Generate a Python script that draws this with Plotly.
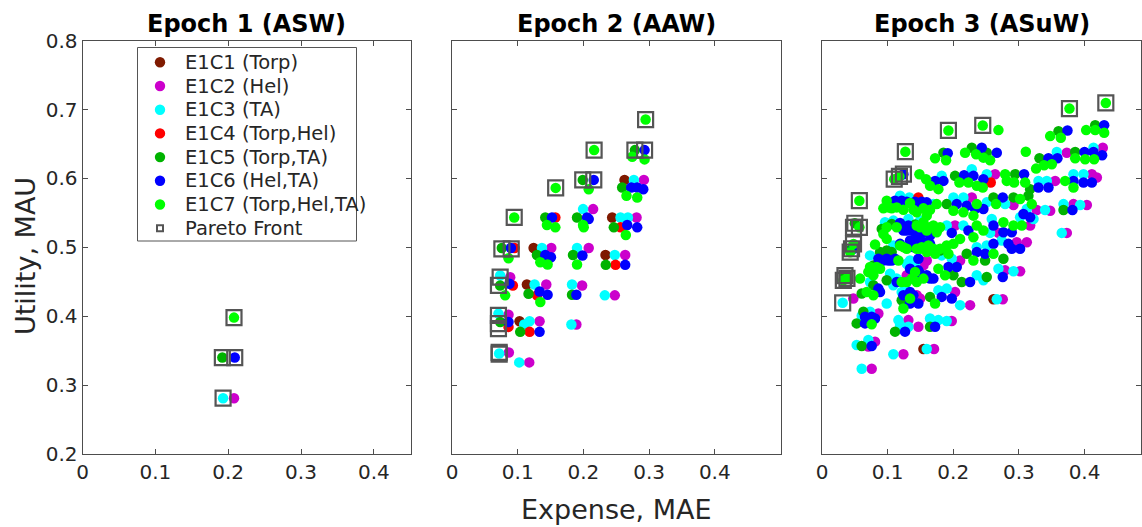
import plotly.graph_objects as go

# ---------------- DATA ----------------
series_names = ["E1C1 (Torp)", "E1C2 (Hel)", "E1C3 (TA)", "E1C4 (Torp,Hel)",
                "E1C5 (Torp,TA)", "E1C6 (Hel,TA)", "E1C7 (Torp,Hel,TA)"]
series_colors = ["#7f1a00", "#cc00cc", "#00ffff", "#ff0000", "#00b300", "#0000ff", "#00ff00"]
pareto_name = "Pareto Front"
panel_titles = ["Epoch 1 (ASW)", "Epoch 2 (AAW)", "Epoch 3 (ASuW)"]
x_ticks = [0, 0.1, 0.2, 0.3, 0.4]
y_ticks = [0.2, 0.3, 0.4, 0.5, 0.6, 0.7, 0.8]

# ---- Epoch 1 ----
e1_c1_x, e1_c1_y = [], []
e1_c2_x, e1_c2_y = [0.208], [0.281]
e1_c3_x, e1_c3_y = [0.193], [0.281]
e1_c4_x, e1_c4_y = [], []
e1_c5_x, e1_c5_y = [0.192], [0.340]
e1_c6_x, e1_c6_y = [0.209], [0.340]
e1_c7_x, e1_c7_y = [0.208], [0.398]
e1_pf_x = [0.208, 0.192, 0.209, 0.193]
e1_pf_y = [0.398, 0.340, 0.340, 0.281]

# ---- Epoch 2 ----
e2_c1_x = [0.1242, 0.2438, 0.2626, 0.2336, 0.1140, 0.1028]
e2_c1_y = [0.4991, 0.5434, 0.5979, 0.4890, 0.4461, 0.3927]
e2_c2_x = [0.2921, 0.2148, 0.2809, 0.1511, 0.2081, 0.2636, 0.0886, 0.1435, 0.1980, 0.2478,
           0.0860, 0.1333, 0.1893, 0.0865, 0.1176]
e2_c2_y = [0.5979, 0.5555, 0.5434, 0.4991, 0.4991, 0.4890, 0.4567, 0.4461, 0.4447, 0.4303,
           0.4023, 0.3927, 0.3879, 0.3474, 0.3330]
e2_c3_x = [0.2768, 0.1995, 0.2565, 0.2677, 0.1369, 0.1903, 0.2478, 0.0733, 0.1257, 0.1827,
           0.2326, 0.0707, 0.1181, 0.1099, 0.1817, 0.0718, 0.1023]
e2_c3_y = [0.5979, 0.5555, 0.5434, 0.5434, 0.4991, 0.4991, 0.4890, 0.4592, 0.4461, 0.4461,
           0.4303, 0.4038, 0.3927, 0.3879, 0.3879, 0.3460, 0.3330]
e2_c4_x = [0.1573, 0.0952, 0.2489, 0.0926, 0.1293, 0.1181, 0.0860, 0.2565]
e2_c4_y = [0.5434, 0.4991, 0.4746, 0.4447, 0.4303, 0.3773, 0.3845, 0.5290]
e2_c5_x = [0.1990, 0.2784, 0.2590, 0.1420, 0.1903, 0.2463, 0.0758, 0.1293, 0.1842, 0.2341,
           0.0733, 0.1165, 0.1827, 0.1038, 0.0733]
e2_c5_y = [0.5979, 0.6412, 0.5868, 0.5434, 0.5434, 0.5290, 0.4991, 0.4890, 0.4890, 0.4746,
           0.4447, 0.4327, 0.4312, 0.3773, 0.3917]
e2_c6_x = [0.2931, 0.2158, 0.2728, 0.2819, 0.2911, 0.1522, 0.2056, 0.2081, 0.2667, 0.2819,
           0.0896, 0.1420, 0.1506, 0.1985, 0.2636, 0.0875, 0.1333, 0.1455, 0.1893, 0.0860, 0.1333]
e2_c6_y = [0.6412, 0.5979, 0.5868, 0.5868, 0.5844, 0.5434, 0.5434, 0.5410, 0.5324, 0.5290,
           0.4991, 0.4890, 0.4856, 0.4881, 0.4746, 0.4471, 0.4360, 0.4312, 0.4312, 0.3917, 0.3773]
e2_c7_x = [0.2947, 0.2163, 0.2743, 0.2931, 0.1578, 0.2081, 0.2656, 0.2819, 0.0947, 0.1445,
           0.1573, 0.1995, 0.2005, 0.2646, 0.0860, 0.1344, 0.1455, 0.1903, 0.0809, 0.1344]
e2_c7_y = [0.6855, 0.6412, 0.6316, 0.6277, 0.5863, 0.5844, 0.5748, 0.5724, 0.5434, 0.5324,
           0.5290, 0.5324, 0.5290, 0.5179, 0.4842, 0.4784, 0.4750, 0.4750, 0.4303, 0.4206]
e2_pf_x = [0.2947, 0.2163, 0.2784, 0.2931, 0.1578, 0.1990, 0.2158, 0.0947, 0.0759, 0.0901,
           0.0733, 0.0707, 0.0707, 0.0707, 0.0707, 0.0718, 0.0718]
e2_pf_y = [0.6855, 0.6412, 0.6412, 0.6412, 0.5863, 0.5979, 0.5979, 0.5434, 0.4977, 0.4977,
           0.4568, 0.4447, 0.4013, 0.3893, 0.3821, 0.3475, 0.3450]

# ---- Epoch 3 ----
e3_c1_x = [0.2612, 0.1545]
e3_c1_y = [0.4247, 0.3525]
e3_c2_x = [0.4278, 0.3730, 0.2637, 0.3552, 0.4111, 0.4187, 0.2282, 0.2917, 0.3272, 0.3476,
           0.3831, 0.4035, 0.2027, 0.3171, 0.2688, 0.3730, 0.2104, 0.2967, 0.3120, 0.1596,
           0.2790, 0.3018, 0.1291, 0.0478, 0.1443, 0.2027, 0.2256, 0.2754, 0.0859, 0.1316,
           0.1468, 0.1977, 0.0808, 0.0706, 0.1240, 0.1707, 0.0757, 0.1443, 0.1545, 0.1494]
e3_c2_y = [0.6447, 0.6374, 0.6062, 0.5965, 0.6062, 0.6013, 0.5725, 0.5614, 0.5542, 0.5532,
           0.5628, 0.5614, 0.5316, 0.5316, 0.5210, 0.5210, 0.4810, 0.5075, 0.5075, 0.4810,
           0.4666, 0.4652, 0.4594, 0.4257, 0.4305, 0.4353, 0.4161, 0.4247, 0.4040, 0.3944,
           0.3848, 0.3930, 0.3631, 0.3559, 0.3448, 0.3525, 0.3237, 0.4738, 0.4738, 0.4257]
e3_c3_x = [0.3577, 0.4136, 0.1824, 0.2282, 0.2510, 0.3298, 0.3425, 0.3831, 0.3984, 0.1189,
           0.1331, 0.1697, 0.2002, 0.2154, 0.2510, 0.2790, 0.3120, 0.3399, 0.3679, 0.3933,
           0.0960, 0.1316, 0.1900, 0.2154, 0.2586, 0.3018, 0.3222, 0.2561, 0.3653, 0.1087,
           0.1824, 0.1977, 0.2358, 0.2510, 0.2739, 0.0732, 0.1341, 0.1138, 0.2358, 0.2459,
           0.2688, 0.2917, 0.0732, 0.1037, 0.1214, 0.0986, 0.1773, 0.1900, 0.2104, 0.2663,
           0.0732, 0.0605, 0.1164, 0.1189, 0.1316, 0.1646, 0.1773, 0.1900, 0.0528, 0.0706,
           0.1087, 0.1596, 0.0605, 0.0315, 0.1087, 0.1494, 0.1291, 0.1418, 0.1087, 0.1265]
e3_c3_y = [0.6384, 0.6447, 0.6038, 0.6134, 0.6062, 0.5965, 0.5965, 0.6062, 0.6062, 0.5749,
           0.5725, 0.5628, 0.5725, 0.5725, 0.5653, 0.5628, 0.5556, 0.5542, 0.5628, 0.5614,
           0.5364, 0.5412, 0.5316, 0.5316, 0.5412, 0.5436, 0.5412, 0.5210, 0.5210, 0.5027,
           0.4883, 0.4834, 0.5003, 0.5027, 0.5099, 0.4883, 0.4810, 0.4546, 0.4594, 0.4522,
           0.4690, 0.4652, 0.4498, 0.4618, 0.4353, 0.4185, 0.4377, 0.4401, 0.4161, 0.4247,
           0.4064, 0.4007, 0.3944, 0.3872, 0.3848, 0.3968, 0.3944, 0.3930, 0.3583, 0.3655,
           0.3448, 0.3525, 0.3237, 0.4195, 0.5388, 0.5388, 0.4762, 0.4762, 0.4449, 0.4449]
e3_c4_x = [0.2571, 0.1468]
e3_c4_y = [0.5941, 0.5725]
e3_c5_x = [0.4162, 0.3603, 0.1850, 0.2282, 0.2510, 0.3313, 0.3857, 0.2027, 0.2942, 0.3171,
           0.1900, 0.2612, 0.2917, 0.3145, 0.3679, 0.0910, 0.1062, 0.0884, 0.2205, 0.2764,
           0.2485, 0.0783, 0.1062, 0.2002, 0.2129, 0.2510, 0.0783, 0.0605, 0.0986, 0.1214,
           0.1646, 0.0630, 0.0528, 0.1113, 0.1646, 0.0605, 0.0500, 0.0450, 0.0350, 0.0986,
           0.1799, 0.1189, 0.1418]
e3_c5_y = [0.6774, 0.6687, 0.6374, 0.6447, 0.6374, 0.6293, 0.6384, 0.6038, 0.6062, 0.5845,
           0.5628, 0.5725, 0.5725, 0.5749, 0.5542, 0.5268, 0.5340, 0.4931, 0.4907, 0.4834,
           0.4810, 0.4738, 0.4931, 0.4594, 0.4498, 0.4570, 0.4449, 0.4329, 0.4522, 0.4233,
           0.4281, 0.4064, 0.3896, 0.3776, 0.3848, 0.3569, 0.5350, 0.4980, 0.4590, 0.4955,
           0.4955, 0.5600, 0.5330]
e3_c6_x = [0.4299, 0.3740, 0.1916, 0.2434, 0.2663, 0.3450, 0.3587, 0.3999, 0.4136, 0.4268,
           0.1723, 0.1850, 0.2165, 0.2307, 0.2459, 0.3079, 0.3298, 0.3450, 0.3831, 0.3984,
           0.4111, 0.1113, 0.1214, 0.1494, 0.1596, 0.2053, 0.2205, 0.2332, 0.2459, 0.2754,
           0.3069, 0.3171, 0.3816, 0.1189, 0.1316, 0.1291, 0.1418, 0.1977, 0.2231, 0.2612,
           0.2764, 0.2891, 0.1341, 0.1443, 0.1545, 0.1392, 0.2612, 0.2358, 0.2485, 0.2840,
           0.2891, 0.3018, 0.0859, 0.0986, 0.1113, 0.1468, 0.1341, 0.1468, 0.1596, 0.1646,
           0.1926, 0.2053, 0.2256, 0.2754, 0.0859, 0.0884, 0.1138, 0.1341, 0.1341, 0.1468,
           0.1824, 0.1977, 0.0757, 0.0808, 0.0655, 0.0655, 0.1265, 0.1723, 0.0757, 0.0478,
           0.1180, 0.1240, 0.1291, 0.1418, 0.1519, 0.1240, 0.1367, 0.1494, 0.1646, 0.1189,
           0.1494, 0.1646, 0.0935, 0.1011, 0.1062, 0.1494, 0.1570, 0.1697, 0.1240, 0.1392]
e3_c6_y = [0.6774, 0.6697, 0.6365, 0.6447, 0.6374, 0.6293, 0.6293, 0.6384, 0.6384, 0.6336,
           0.5965, 0.5965, 0.6047, 0.6038, 0.5989, 0.6062, 0.5869, 0.5869, 0.5965, 0.5941,
           0.5941, 0.5677, 0.5677, 0.5628, 0.5653, 0.5628, 0.5604, 0.5556, 0.5556, 0.5725,
           0.5484, 0.5436, 0.5542, 0.5354, 0.5316, 0.5244, 0.5219, 0.5210, 0.5244, 0.5316,
           0.5219, 0.5219, 0.5099, 0.5099, 0.5075, 0.5003, 0.5051, 0.4931, 0.4907, 0.5051,
           0.4979, 0.4979, 0.4834, 0.4834, 0.4834, 0.4834, 0.4690, 0.4666, 0.4594, 0.4546,
           0.4714, 0.4714, 0.4498, 0.4570, 0.4401, 0.4353, 0.4498, 0.4353, 0.4185, 0.4185,
           0.4281, 0.4257, 0.3992, 0.3968, 0.3992, 0.3896, 0.3776, 0.3848, 0.3569, 0.4979,
           0.6030, 0.6062, 0.5662, 0.5662, 0.5662, 0.5244, 0.5244, 0.5171, 0.5171, 0.5051,
           0.5051, 0.5051, 0.4810, 0.4810, 0.4810, 0.4618, 0.4570, 0.4546, 0.4305, 0.4305]
e3_c7_x = [0.4324, 0.3770, 0.2449, 0.1926, 0.1270, 0.0569, 0.2688, 0.3476, 0.3638, 0.4024,
           0.4162, 0.4299, 0.1723, 0.1890, 0.2180, 0.2348, 0.2459, 0.2561, 0.3105, 0.3262,
           0.3384, 0.3501, 0.3857, 0.4009, 0.4146, 0.1100, 0.1180, 0.1484, 0.1585, 0.1646,
           0.1773, 0.2093, 0.2231, 0.2358, 0.2449, 0.2790, 0.2815, 0.2927, 0.3095, 0.3704,
           0.3831, 0.0986, 0.1011, 0.1138, 0.1341, 0.1748, 0.2002, 0.2154, 0.2307, 0.2358,
           0.2652, 0.3018, 0.3196, 0.0935, 0.0986, 0.1443, 0.1545, 0.1697, 0.1596, 0.1748,
           0.2358, 0.2459, 0.2764, 0.2917, 0.3044, 0.0808, 0.1189, 0.1240, 0.1519, 0.1621,
           0.1494, 0.1596, 0.1723, 0.1900, 0.2002, 0.2104, 0.2307, 0.1926, 0.2307, 0.2612,
           0.0884, 0.0706, 0.0783, 0.1164, 0.1418, 0.1545, 0.1367, 0.1214, 0.1773, 0.1875,
           0.0579, 0.0681, 0.0783, 0.1341, 0.1240, 0.1723, 0.0757, 0.0570, 0.0480, 0.0430,
           0.0380, 0.0325, 0.0935, 0.1062, 0.1240, 0.1392, 0.1545, 0.1646, 0.1443, 0.1596,
           0.0986, 0.1138, 0.1494, 0.1646, 0.1799, 0.1291, 0.1443, 0.1697, 0.1799, 0.0732,
           0.0833, 0.1291, 0.1443]
e3_c7_y = [0.7096, 0.7014, 0.6770, 0.6697, 0.6389, 0.5677, 0.6702, 0.6615, 0.6591, 0.6702,
           0.6702, 0.6663, 0.6293, 0.6264, 0.6374, 0.6350, 0.6302, 0.6264, 0.6389, 0.6143,
           0.6192, 0.6206, 0.6293, 0.6278, 0.6278, 0.5990, 0.6030, 0.6062, 0.5989, 0.5893,
           0.5845, 0.5941, 0.5941, 0.5893, 0.5869, 0.6062, 0.5965, 0.5941, 0.5941, 0.5965,
           0.5869, 0.5677, 0.5580, 0.5580, 0.5643, 0.5628, 0.5532, 0.5508, 0.5460, 0.5628,
           0.5628, 0.5701, 0.5628, 0.5195, 0.5123, 0.5316, 0.5364, 0.5316, 0.5244, 0.5219,
           0.5316, 0.5244, 0.5364, 0.5316, 0.5316, 0.5041, 0.5027, 0.5003, 0.5003, 0.5027,
           0.4979, 0.4931, 0.4907, 0.5027, 0.5051, 0.5123, 0.5147, 0.4907, 0.4810, 0.4907,
           0.4690, 0.4642, 0.4594, 0.4810, 0.4642, 0.4546, 0.4546, 0.4498, 0.4690, 0.4594,
           0.4546, 0.4353, 0.4305, 0.4257, 0.4113, 0.4185, 0.3882, 0.5290, 0.5050, 0.4930,
           0.4550, 0.4520, 0.5566, 0.5566, 0.5547, 0.5547, 0.5566, 0.5547, 0.5508, 0.5460,
           0.5292, 0.5292, 0.5292, 0.5292, 0.5292, 0.4979, 0.4979, 0.4979, 0.4979, 0.4714,
           0.4714, 0.4498, 0.4498]
e3_pf_x = [0.4324, 0.3770, 0.2449, 0.1926, 0.1270, 0.1240, 0.1180, 0.1100, 0.0569, 0.0570,
           0.0500, 0.0480, 0.0480, 0.0450, 0.0430, 0.0380, 0.0350, 0.0325, 0.0315]
e3_pf_y = [0.7096, 0.7014, 0.6770, 0.6697, 0.6389, 0.6062, 0.6030, 0.5990, 0.5677, 0.5290,
           0.5350, 0.5290, 0.5050, 0.4980, 0.4930, 0.4550, 0.4590, 0.4520, 0.4195]

epochs = [
    ([(e1_c1_x, e1_c1_y), (e1_c2_x, e1_c2_y), (e1_c3_x, e1_c3_y), (e1_c4_x, e1_c4_y),
      (e1_c5_x, e1_c5_y), (e1_c6_x, e1_c6_y), (e1_c7_x, e1_c7_y)], (e1_pf_x, e1_pf_y)),
    ([(e2_c1_x, e2_c1_y), (e2_c2_x, e2_c2_y), (e2_c3_x, e2_c3_y), (e2_c4_x, e2_c4_y),
      (e2_c5_x, e2_c5_y), (e2_c6_x, e2_c6_y), (e2_c7_x, e2_c7_y)], (e2_pf_x, e2_pf_y)),
    ([(e3_c1_x, e3_c1_y), (e3_c2_x, e3_c2_y), (e3_c3_x, e3_c3_y), (e3_c4_x, e3_c4_y),
      (e3_c5_x, e3_c5_y), (e3_c6_x, e3_c6_y), (e3_c7_x, e3_c7_y)], (e3_pf_x, e3_pf_y)),
]

# ---------------- LAYOUT ----------------
W, H = 1142, 527


def fx(px):
    return px / W


def fy(py):
    return 1 - py / H


x_domains = [[fx(82.5), fx(411)], [fx(452), fx(780.5)], [fx(822), fx(1141)]]
x_ranges = [[0, 0.451], [0, 0.5], [0, 0.486]]
y_domain = [fy(454), fy(40.7)]
FONT = "DejaVu Sans"
AX = "#4d4d4d"
TXT = "#262626"
PF_COLOR = "#555555"

fig = go.Figure()

for p, (series, pf) in enumerate(epochs):
    xa = "x" if p == 0 else f"x{p+1}"
    ya = "y" if p == 0 else f"y{p+1}"
    for i, (sx, sy) in enumerate(series):
        fig.add_trace(go.Scatter(
            x=sx, y=sy, mode="markers", xaxis=xa, yaxis=ya,
            name=series_names[i], showlegend=False,
            marker=dict(symbol="circle", size=10.5, color=series_colors[i], line=dict(width=0))))
    fig.add_trace(go.Scatter(
        x=pf[0], y=pf[1], mode="markers", xaxis=xa, yaxis=ya,
        name=pareto_name, showlegend=False,
        marker=dict(symbol="square-open", size=15, color=PF_COLOR,
                    line=dict(width=2.2, color=PF_COLOR))))

layout = dict(
    width=W, height=H,
    margin=dict(l=0, r=0, t=0, b=0, autoexpand=False),
    paper_bgcolor="white", plot_bgcolor="white",
    font=dict(family=FONT, color=TXT, size=20),
    showlegend=False,
)

for p in range(3):
    xk = "xaxis" if p == 0 else f"xaxis{p+1}"
    yk = "yaxis" if p == 0 else f"yaxis{p+1}"
    ya = "y" if p == 0 else f"y{p+1}"
    xa = "x" if p == 0 else f"x{p+1}"
    layout[xk] = dict(domain=x_domains[p], range=x_ranges[p], anchor=ya,
                      tickvals=x_ticks, ticktext=[("0" if v == 0 else f"{v:g}") for v in x_ticks],
                      ticks="inside", ticklen=5, tickcolor=AX, showline=True, linecolor=AX,
                      linewidth=1, mirror="ticks", showgrid=False, zeroline=False,
                      automargin=False, tickfont=dict(size=20, color=TXT, family=FONT))
    layout[yk] = dict(domain=y_domain, range=[0.2, 0.8], anchor=xa,
                      tickvals=y_ticks, ticktext=[f"{v:.1f}" for v in y_ticks],
                      showticklabels=(p == 0),
                      ticks="inside", ticklen=5, tickcolor=AX, showline=True, linecolor=AX,
                      linewidth=1, mirror="ticks", showgrid=False, zeroline=False,
                      automargin=False, tickfont=dict(size=20, color=TXT, family=FONT))

annotations = []
shapes = []
for p in range(3):
    cx = (x_domains[p][0] + x_domains[p][1]) / 2
    annotations.append(dict(text=f"<b>{panel_titles[p]}</b>", x=cx, y=fy(24),
                            xref="paper", yref="paper", showarrow=False,
                            xanchor="center", yanchor="middle",
                            font=dict(family=FONT, size=24, color="black")))
annotations.append(dict(text="Expense, MAE", x=(x_domains[1][0] + x_domains[1][1]) / 2,
                        y=fy(509), xref="paper", yref="paper", showarrow=False,
                        xanchor="center", yanchor="middle",
                        font=dict(family=FONT, size=27, color=TXT)))
annotations.append(dict(text="Utility, MAU", x=fx(25), y=fy(256), textangle=-90,
                        xref="paper", yref="paper", showarrow=False,
                        xanchor="center", yanchor="middle",
                        font=dict(family=FONT, size=27, color=TXT)))

# ---- custom legend (box, symbols, labels) ----
leg_left, leg_right, leg_top, leg_bottom = 137.5, 356.5, 47.5, 241.0
leg_row0, leg_dy, leg_sym_x, leg_txt_x = 62.3, 23.7, 160.0, 183.0
shapes.append(dict(type="rect", xref="paper", yref="paper",
                   x0=fx(leg_left), x1=fx(leg_right), y0=fy(leg_bottom), y1=fy(leg_top),
                   line=dict(color="#555555", width=1), fillcolor="white", layer="below"))
legend_labels = series_names + [pareto_name]
for k, lab in enumerate(legend_labels):
    cy = leg_row0 + k * leg_dy
    if k < len(series_names):
        r = 5.2
        shapes.append(dict(type="circle", xref="paper", yref="paper",
                           x0=fx(leg_sym_x - r), x1=fx(leg_sym_x + r),
                           y0=fy(cy + r), y1=fy(cy - r),
                           fillcolor=series_colors[k], line=dict(width=0)))
    else:
        r = 3.0
        shapes.append(dict(type="rect", xref="paper", yref="paper",
                           x0=fx(leg_sym_x - r), x1=fx(leg_sym_x + r),
                           y0=fy(cy + r), y1=fy(cy - r),
                           fillcolor="rgba(0,0,0,0)", line=dict(width=2, color=PF_COLOR)))
    annotations.append(dict(text=lab, x=fx(leg_txt_x), y=fy(cy),
                            xref="paper", yref="paper", showarrow=False,
                            xanchor="left", yanchor="middle",
                            font=dict(family=FONT, size=19.5, color=TXT)))

layout["annotations"] = annotations
layout["shapes"] = shapes

fig.update_layout(**layout)
fig.write_html("out.html")
